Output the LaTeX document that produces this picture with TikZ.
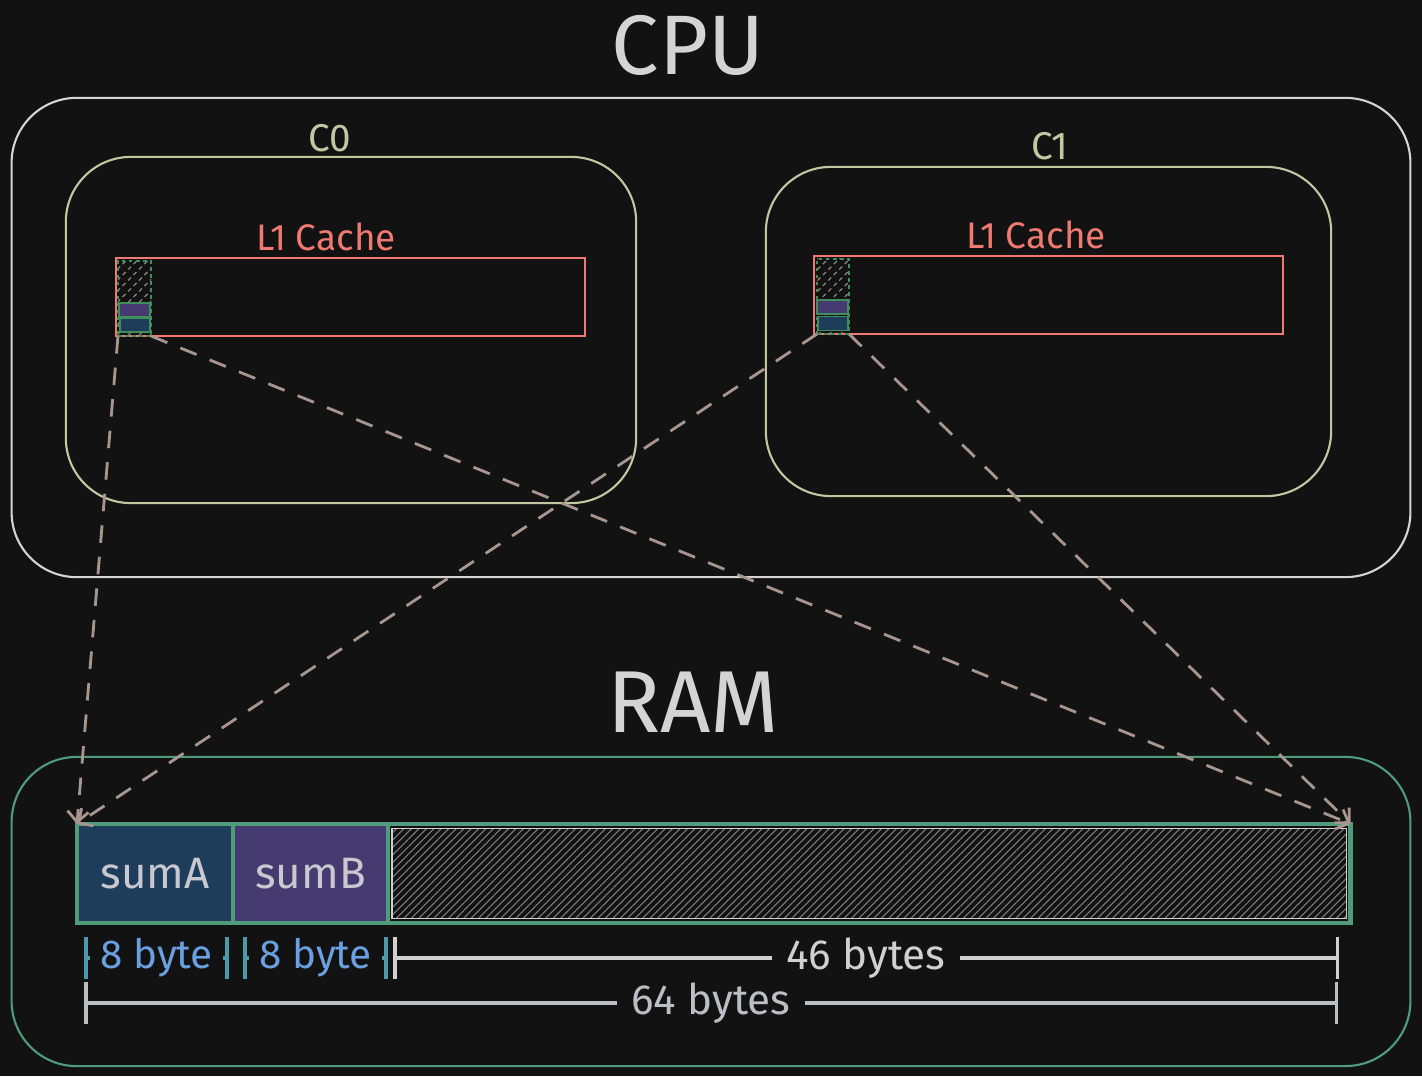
\documentclass[tikz,border=0pt]{standalone}
\usepackage{fontspec}
\setmainfont{Fira Sans}
\usepackage{xcolor}
\usetikzlibrary{arrows.meta,patterns.meta,positioning}

\definecolor{bg}{HTML}{121212}
\definecolor{cpugrey}{HTML}{D4D4D4}
\definecolor{coreolive}{HTML}{C3C7A1}
\definecolor{cachered}{HTML}{F07A72}
\definecolor{ramgreen}{HTML}{4F9B7A}
\definecolor{slotgreen}{HTML}{3F8F5C}
\definecolor{sumblue}{HTML}{1E3D5B}
\definecolor{sumpurple}{HTML}{463B70}
\definecolor{sumtext}{HTML}{C8C8D0}
\definecolor{bytetext}{HTML}{6A9FE0}
\definecolor{byteteal}{HTML}{4D9AAA}
\definecolor{dimgrey}{HTML}{D0D0D0}
\definecolor{totalgrey}{HTML}{BDBDC5}
\definecolor{linkgrey}{HTML}{A8968E}
\definecolor{hatchgrey}{HTML}{8A8A8A}

\begin{document}
\begin{tikzpicture}[x=0.01cm, y=-0.01cm,
  box/.style={draw, rounded corners=0.65cm, line width=0.6pt, inner sep=0, outer sep=0},
  cache/.style={draw=cachered, line width=0.6pt, inner sep=0, outer sep=0, minimum width=4.69cm, minimum height=0.78cm},
  slot/.style={draw=slotgreen, dash pattern=on 1pt off 1pt, line width=0.4pt, inner sep=0, outer sep=0,
    minimum height=0.75cm, pattern={Lines[angle=45,distance=2.2pt,line width=0.35pt]}, pattern color=hatchgrey},
  word/.style={draw=slotgreen, line width=0.5pt, inner sep=0, minimum width=0.31cm, minimum height=0.14cm},
  cell/.style={draw=ramgreen, line width=1.3pt, inner sep=0, outer sep=0, minimum height=0.99cm,
    text=sumtext, font=\fontsize{12.5}{15}\selectfont},
  link/.style={draw=linkgrey, line width=0.8pt, dash pattern=on 5pt off 4pt, -{Straight Barb[length=3pt,width=6pt]}},
  dim/.style={line width=1pt, {Bar[width=0.42cm]}-{Bar[width=0.42cm]}},
  title/.style={text=cpugrey, font=\fontsize{24}{28}\selectfont},
  corename/.style={text=coreolive, font=\fontsize{11}{13}\selectfont},
  cachename/.style={text=cachered, font=\fontsize{10.5}{13}\selectfont}]

\fill[bg] (0,0) rectangle (1422,1076);
\useasboundingbox (0,0) rectangle (1422,1076);

% CPU
\node[title] (cputitle) at (688,45) {CPU};
\node[box, draw=cpugrey, minimum width=13.98cm, minimum height=4.79cm] (cpu) at (711,337.5) {};

\node[box, draw=coreolive, minimum width=5.70cm, minimum height=3.46cm] (c0) at (351,330) {};
\node[corename] (c0name) at (330,138) {C0};
\node[cachename] (l1aname) at (326,237) {L1 Cache};
\node[cache] (l1a) at (350.5,297) {};
\node[slot, minimum width=0.33cm] (c0line) at (134.5,298.5) {};
\node[word, fill=sumpurple] (c0b) at (134.5,310) {};
\node[word, fill=sumblue, minimum width=0.30cm] (c0a) at (135,325) {};

\node[box, draw=coreolive, minimum width=5.65cm, minimum height=3.29cm] (c1) at (1048.5,331.5) {};
\node[corename] (c1name) at (1050,146) {C1};
\node[cachename] (l1bname) at (1036,235) {L1 Cache};
\node[cache] (l1b) at (1048.5,295) {};
\node[slot, minimum width=0.32cm] (c1line) at (833,296.5) {};
\node[word, fill=sumpurple] (c1b) at (832.5,307) {};
\node[word, fill=sumblue, minimum width=0.30cm] (c1a) at (833,323.5) {};

% RAM
\node[title, font=\fontsize{25}{30}\selectfont] (ramtitle) at (693,702) {RAM};
\node[box, draw=ramgreen, minimum width=13.98cm, minimum height=3.09cm] (ram) at (711,911.5) {};

\node[cell, fill=sumblue, minimum width=1.56cm] (suma) at (155,873.5) {sumA};
\node[cell, fill=sumpurple, minimum width=1.55cm, right=0pt of suma] (sumb) {sumB};
\node[cell, minimum width=9.62cm, right=0pt of sumb] (pad) {};
\node[draw=dimgrey, line width=0.4pt, inner sep=0, minimum width=9.54cm, minimum height=0.90cm,
  pattern={Lines[angle=45,distance=1.5pt,line width=0.3pt]}, pattern color=gray] (padin) at (pad.center) {};

\path[draw] [link] (c0line.south west) -- (suma.north west);
\path[draw] [link] (c0line.south east) -- (pad.north east);
\path[draw] [link] (c1line.south west) -- (suma.north west);
\path[draw] [link] (c1line.south east) -- (pad.north east);

% sizes
\coordinate (b0) at (84,958);
\coordinate (b1) at (229,958);
\coordinate (b2) at (243,958);
\coordinate (b3) at (388,958);
\coordinate (b4) at (393,958);
\coordinate (b5) at (1339,958);
\coordinate (t0) at (84,1003);
\coordinate (t1) at (1338,1003);

\path[draw] [dim, draw=byteteal] (b0) -- node[fill=bg, text=bytetext, inner xsep=3pt, font=\fontsize{11.5}{14}\selectfont] {8 byte} (b1);
\path[draw] [dim, draw=byteteal] (b2) -- node[fill=bg, text=bytetext, inner xsep=3pt, font=\fontsize{11.5}{14}\selectfont] {8 byte} (b3);
\path[draw] [dim, draw=dimgrey] (b4) -- node[fill=bg, text=dimgrey, inner xsep=4pt, font=\fontsize{12}{14}\selectfont] {46 bytes} (b5);
\path[draw] [dim, draw=totalgrey] (t0) -- node[fill=bg, text=totalgrey, inner xsep=4pt, font=\fontsize{12}{14}\selectfont] {64 bytes} (t1);

\end{tikzpicture}
\end{document}
